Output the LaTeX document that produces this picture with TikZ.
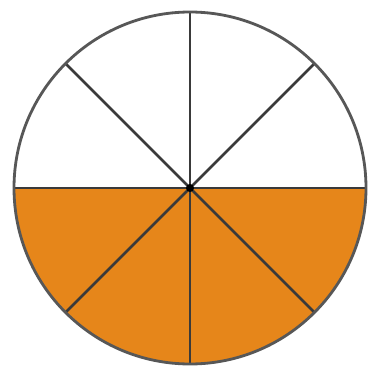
\documentclass[tikz,border=0pt]{standalone}
\usepackage{xcolor}
\definecolor{fillorange}{HTML}{E6861A}
\definecolor{spokegray}{HTML}{3A3A3A}

\begin{document}
\begin{tikzpicture}[x=0.02cm, y=-0.02cm, line width=1.6pt]
      \useasboundingbox (0,0) rectangle (375,368);
      \coordinate (c) at (190,188);

      % lower half shaded
      \fill[fillorange] (c) ++(176,0) arc[start angle=0, end angle=180, radius=176] -- cycle;

      \foreach \a in {0,45,...,315}
        \draw[spokegray] (c) -- ++(\a:176);
      \draw[spokegray!85] (c) circle[radius=176];
      \fill[black] (c) circle[radius=4];
    \end{tikzpicture}
\end{document}
